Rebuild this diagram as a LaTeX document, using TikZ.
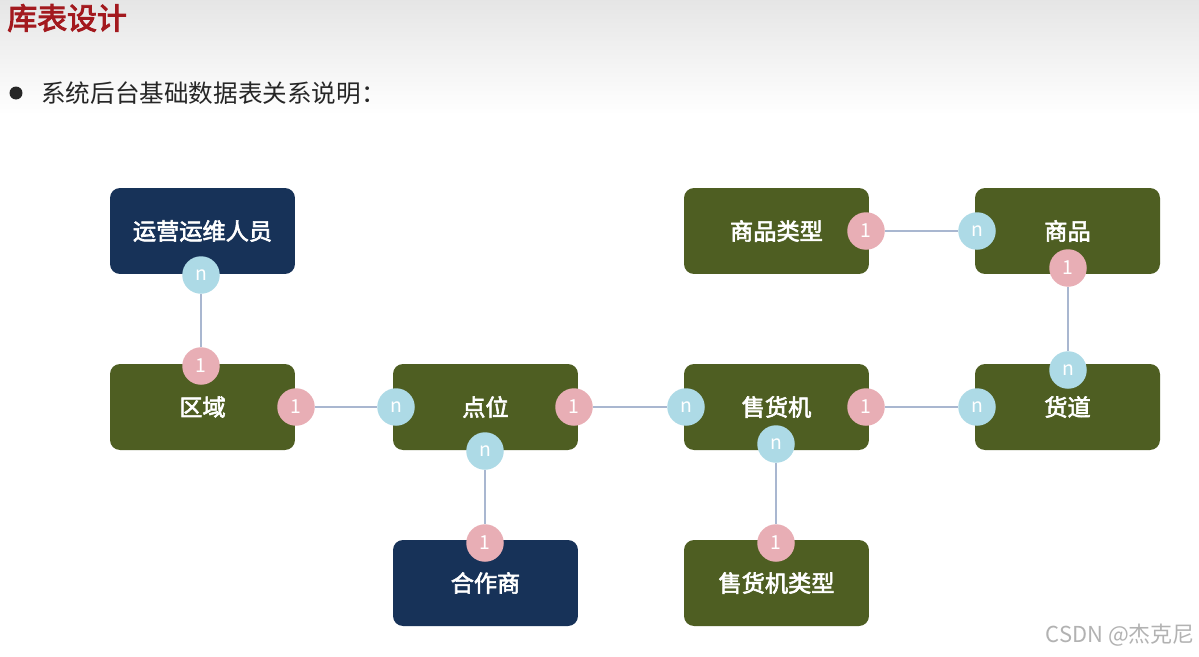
\documentclass[tikz,border=0pt]{standalone}
\usepackage{fontspec}
\setmainfont{Noto Sans CJK SC}
\newfontfamily\cjk{Noto Sans CJK SC}
\newfontfamily\cjkmed{Noto Sans CJK SC}[FakeBold=2.6]
\newfontfamily\cjksemi{Noto Sans CJK SC}[FakeBold=3.2]
\usetikzlibrary{positioning}
\definecolor{boxgreen}{HTML}{4E5E22}
\definecolor{boxnavy}{HTML}{173258}
\definecolor{onepink}{HTML}{E8AEB5}
\definecolor{manyblue}{HTML}{ADDAE6}
\definecolor{linkline}{HTML}{A9B7D0}
\definecolor{titlered}{HTML}{A3191E}
\tikzset{
  entity/.style={rounded corners=0.2cm, minimum width=3.7cm, minimum height=1.72cm,
    inner sep=0pt, text=white, font=\cjkmed\fontsize{13.2}{15}\selectfont},
  greenbox/.style={entity, fill=boxgreen},
  navybox/.style={entity, fill=boxnavy},
  card/.style={circle, minimum size=0.75cm, inner sep=0pt, text=white,
    font=\cjk\fontsize{11}{13}\selectfont},
  one/.style={card, fill=onepink},
  many/.style={card, fill=manyblue},
  link/.style={draw=linkline, line width=1.1pt},
}
\begin{document}
\begin{tikzpicture}[x=0.02cm, y=-0.02cm]
% page frame and header shading
\useasboundingbox (0,0) rectangle (1199,656);
\shade[top color=black!10, bottom color=white] (0,0) rectangle (1199,115);
\fill[white] (0,115) rectangle (1199,656);

% heading and bullet line
\node[anchor=west, text=titlered, font=\cjksemi\fontsize{17}{19}\selectfont, inner sep=0pt] (title) at (7,18) {库表设计};
\node[circle, fill=black!85, minimum size=0.26cm, inner sep=0pt] (dot) at (16,93) {};
\node[anchor=west, font=\cjk\fontsize{14}{16}\selectfont, text=black!85, inner sep=0pt] (intro) at (41,93) {系统后台基础数据表关系说明：};

% tables
\node[navybox]  (staff)  at (202.5,231) {运营运维人员};
\node[greenbox] (region) at (202.5,407) {区域};
\node[greenbox] (site)   at (485.5,407) {点位};
\node[greenbox] (vm)     at (776.5,407) {售货机};
\node[greenbox] (lane)   at (1067.5,407) {货道};
\node[greenbox] (ptype)  at (776.5,231) {商品类型};
\node[greenbox] (goods)  at (1067.5,231) {商品};
\node[navybox]  (partner) at (485.5,583) {合作商};
\node[greenbox] (vtype)  at (776.5,583) {售货机类型};

% cardinality markers
\node[many] (staffN)   at (201,275) {n};
\node[one]  (regionT)  at (201,366) {1};
\node[one]  (regionR)  at (296,407) {1};
\node[many] (siteL)    at (396,407) {n};
\node[one]  (siteR)    at (574,407) {1};
\node[many] (siteB)    at (485,451) {n};
\node[one]  (partnerT) at (485,543) {1};
\node[many] (vmL)      at (686,407) {n};
\node[one]  (vmR)      at (866,407) {1};
\node[many] (vmB)      at (776,444) {n};
\node[one]  (vtypeT)   at (776,543) {1};
\node[many] (laneL)    at (977,407) {n};
\node[many] (laneT)    at (1068,370) {n};
\node[one]  (goodsB)   at (1068,268) {1};
\node[one]  (ptypeR)   at (866,231) {1};
\node[many] (goodsL)   at (977,231) {n};

% relations
\draw[link] (staffN) -- (regionT);
\draw[link] (regionR) -- (siteL);
\draw[link] (siteR) -- (vmL);
\draw[link] (siteB) -- (partnerT);
\draw[link] (vmR) -- (laneL);
\draw[link] (vmB) -- (vtypeT);
\draw[link] (laneT) -- (goodsB);
\draw[link] (ptypeR) -- (goodsL);

% watermark
\node[anchor=east, text=black!30, font=\cjk\fontsize{12.5}{14}\selectfont, inner sep=0pt] (mark) at (1195,635) {CSDN @杰克尼};
\end{tikzpicture}
\end{document}
